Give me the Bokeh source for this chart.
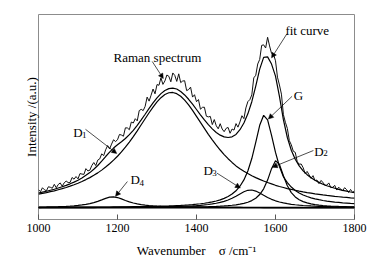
from bokeh.plotting import figure
from bokeh.models import Range1d, Label, Arrow, NormalHead, Span, FixedTicker
from bokeh.embed import file_html
from bokeh.resources import INLINE

# ---------------- data ----------------
wavenumber = list(range(1000, 1801, 10))
spectrum_wavenumber = list(range(1000, 1801, 5))
tick_values = [1000, 1200, 1400, 1600, 1800]

raman_spectrum = [
    18.3, 16.2, 20.2, 18.2, 17.1, 21.2, 20.7, 19.7, 23.7, 20.2,
    23.5, 25.1, 21.7, 25.2, 27.0, 25.5, 25.6, 30.6, 28.9, 31.6,
    29.2, 34.6, 34.1, 33.8, 39.6, 37.3, 38.0, 42.8, 45.8, 42.7,
    48.3, 49.5, 54.6, 52.8, 58.7, 63.0, 59.6, 64.5, 68.9, 67.1,
    68.9, 74.3, 73.7, 72.5, 81.0, 80.9, 79.1, 86.9, 85.9, 90.3,
    88.1, 98.5, 99.8, 98.5, 102.8, 112.2, 108.1, 114.1, 120.4, 115.5,
    124.9, 124.2, 131.7, 125.1, 128.6, 134.6, 133.3, 127.7, 136.7, 134.2,
    128.1, 135.8, 126.9, 128.5, 128.8, 118.8, 119.8, 122.3, 112.2, 114.6,
    107.5, 109.7, 99.9, 101.8, 101.9, 92.8, 92.1, 92.6, 84.3, 89.4,
    83.1, 80.0, 85.2, 79.8, 77.1, 80.5, 81.4, 75.5, 79.8, 78.7,
    85.3, 81.7, 87.0, 93.3, 90.3, 101.2, 107.6, 109.6, 114.4, 131.7,
    134.3, 145.8, 150.4, 164.7, 165.2, 162.0, 172.9, 164.1, 156.5, 155.7,
    149.0, 132.4, 124.5, 115.2, 94.4, 86.6, 80.4, 68.0, 63.8, 57.3,
    56.1, 46.7, 44.1, 44.3, 40.6, 34.6, 36.8, 33.3, 29.8, 32.5,
    27.5, 28.0, 24.4, 27.6, 25.8, 22.6, 22.9, 25.1, 20.3, 20.7,
    22.6, 17.9, 20.8, 18.7, 17.2, 20.3, 18.3, 15.4, 18.5, 15.5,
    16.9,
]

fit_curve = [
    14.9, 15.8, 16.7, 17.7, 18.7, 20.0, 21.2, 22.6, 24.2, 25.9,
    27.9, 30.2, 32.8, 35.6, 39.0, 42.8, 47.2, 51.9, 56.4, 60.5,
    63.8, 66.9, 70.2, 74.1, 78.5, 83.6, 89.1, 94.8, 100.7, 106.3,
    111.4, 115.7, 118.9, 120.8, 121.3, 120.4, 117.9, 114.4, 110.0, 105.0,
    99.6, 94.2, 89.0, 84.2, 80.0, 76.3, 73.6, 71.8, 71.2, 71.9,
    74.3, 79.1, 85.9, 95.2, 107.5, 123.4, 140.6, 152.5, 153.0, 145.7,
    133.5, 113.0, 89.3, 71.2, 58.3, 49.2, 42.4, 37.4, 33.5, 30.4,
    27.8, 25.7, 23.8, 22.2, 21.0, 19.7, 18.6, 17.6, 16.8, 15.9,
    15.2,
]

band_d1 = [
    13.8, 14.5, 15.3, 16.2, 17.1, 18.2, 19.3, 20.5, 21.8, 23.2,
    24.8, 26.6, 28.5, 30.5, 32.8, 35.3, 38.1, 41.2, 44.5, 48.2,
    52.2, 56.6, 61.4, 66.6, 72.1, 78.0, 84.1, 90.2, 96.3, 102.1,
    107.3, 111.6, 114.8, 116.6, 116.9, 115.7, 113.0, 109.1, 104.3, 98.7,
    92.7, 86.5, 80.4, 74.4, 68.8, 63.4, 58.5, 53.9, 49.7, 45.9,
    42.4, 39.6, 37.0, 34.6, 32.4, 30.5, 28.7, 27.0, 25.5, 24.1,
    22.7, 21.5, 20.5, 19.4, 18.5, 17.7, 16.8, 16.0, 15.3, 14.7,
    14.0, 13.5, 12.9, 12.4, 12.0, 11.5, 11.1, 10.7, 10.4, 9.9,
    9.6,
]

band_g = [
    0.33, 0.34, 0.36, 0.37, 0.38, 0.40, 0.41, 0.43, 0.45, 0.47,
    0.49, 0.51, 0.53, 0.55, 0.58, 0.61, 0.64, 0.67, 0.70, 0.74,
    0.78, 0.82, 0.87, 0.92, 0.98, 1.04, 1.10, 1.18, 1.26, 1.35,
    1.45, 1.56, 1.68, 1.82, 1.97, 2.16, 2.36, 2.59, 2.86, 3.17,
    3.53, 3.97, 4.48, 5.10, 5.85, 6.77, 7.93, 9.40, 11.30, 13.79,
    17.14, 21.79, 28.15, 37.21, 49.84, 66.26, 83.59, 93.70, 89.07, 73.42,
    56.02, 41.80, 31.40, 25.4, 20.9, 17.5, 14.9, 12.9, 11.3, 10.0,
    9.0, 8.1, 7.3, 6.7, 6.2, 5.7, 5.3, 4.9, 4.6, 4.3,
    4.1,
]

band_d2 = [
    0.09, 0.09, 0.10, 0.10, 0.10, 0.11, 0.11, 0.11, 0.12, 0.12,
    0.13, 0.13, 0.14, 0.15, 0.15, 0.16, 0.17, 0.17, 0.18, 0.19,
    0.20, 0.21, 0.22, 0.23, 0.25, 0.26, 0.28, 0.29, 0.31, 0.33,
    0.35, 0.38, 0.40, 0.43, 0.47, 0.51, 0.55, 0.60, 0.65, 0.71,
    0.78, 0.86, 0.96, 1.07, 1.21, 1.36, 1.56, 1.79, 2.09, 2.45,
    2.93, 3.55, 4.38, 5.54, 7.18, 9.60, 13.30, 19.09, 27.97, 39.57,
    47.72, 43.85, 32.45, 22.22, 15.31, 10.89, 8.03, 6.12, 4.80, 3.85,
    3.16, 2.63, 2.22, 1.90, 1.65, 1.44, 1.27, 1.12, 1.00, 0.90,
    0.81,
]

band_d3 = [
    0.15, 0.16, 0.17, 0.17, 0.18, 0.19, 0.20, 0.20, 0.21, 0.22,
    0.23, 0.24, 0.26, 0.27, 0.28, 0.30, 0.31, 0.33, 0.35, 0.37,
    0.39, 0.41, 0.44, 0.47, 0.50, 0.53, 0.57, 0.61, 0.66, 0.71,
    0.77, 0.83, 0.91, 0.99, 1.09, 1.20, 1.33, 1.48, 1.66, 1.87,
    2.12, 2.42, 2.78, 3.23, 3.78, 4.47, 5.34, 6.44, 7.83, 9.56,
    11.63, 13.93, 16.13, 17.65, 17.94, 16.86, 14.86, 12.54, 10.35, 8.48,
    6.96, 5.75, 4.79, 4.04, 3.43, 2.95, 2.55, 2.23, 1.96, 1.74,
    1.55, 1.39, 1.25, 1.13, 1.03, 0.94, 0.86, 0.79, 0.73, 0.68,
    0.63,
]

band_d4 = [
    0.60, 0.66, 0.74, 0.83, 0.93, 1.06, 1.21, 1.40, 1.63, 1.92,
    2.28, 2.75, 3.35, 4.13, 5.14, 6.42, 7.93, 9.48, 10.66, 10.98,
    10.27, 8.88, 7.30, 5.88, 4.71, 3.80, 3.09, 2.55, 2.12, 1.79,
    1.53, 1.32, 1.15, 1.00, 0.89, 0.79, 0.70, 0.63, 0.57, 0.52,
    0.47, 0.43, 0.40, 0.37, 0.34, 0.32, 0.29, 0.27, 0.26, 0.24,
    0.22, 0.21, 0.20, 0.19, 0.18, 0.17, 0.16, 0.15, 0.15, 0.14,
    0.13, 0.13, 0.12, 0.12, 0.11, 0.11, 0.10, 0.10, 0.10, 0.09,
    0.09, 0.09, 0.08, 0.08, 0.08, 0.08, 0.07, 0.07, 0.07, 0.07,
    0.07,
]

baseline_level = 0.0

x_title = "Wavenumber\u00a0\u00a0\u00a0\u00a0\u03c3 /cm\u207b\u00b9"
y_title = "Intensity /(a.u.)"

# ---------------- figure ----------------
FONT = "Liberation Serif"

p = figure(width=380, height=260, output_backend="svg", toolbar_location=None,
           x_range=Range1d(1000, 1800), y_range=Range1d(-12, 196),
           min_border_left=38, min_border_right=26, min_border_top=14,
           min_border_bottom=38)
p.background_fill_color = "white"
p.border_fill_color = "white"
p.grid.visible = False
p.outline_line_color = "#8c8c8c"
p.outline_line_width = 1

xa = p.xaxis[0]
xa.ticker = FixedTicker(ticks=tick_values)
xa.major_tick_in = 5
xa.major_tick_out = 0
xa.minor_tick_line_color = None
xa.major_tick_line_color = "#555555"
xa.axis_line_color = "#8c8c8c"
xa.major_label_text_font = FONT
xa.major_label_text_font_size = "12px"
xa.major_label_text_color = "black"
xa.major_label_standoff = 4
xa.axis_label = x_title
xa.axis_label_text_font = FONT
xa.axis_label_text_font_size = "13px"
xa.axis_label_text_font_style = "normal"
xa.axis_label_text_color = "black"
xa.axis_label_standoff = 8

ya = p.yaxis[0]
ya.ticker = FixedTicker(ticks=[])
ya.major_tick_line_color = None
ya.minor_tick_line_color = None
ya.axis_line_color = None
ya.major_label_standoff = 0
ya.axis_label = y_title
ya.axis_label_text_font = FONT
ya.axis_label_text_font_size = "13px"
ya.axis_label_text_font_style = "normal"
ya.axis_label_text_color = "black"
ya.axis_label_standoff = 0

# spectrum and curves
p.line(spectrum_wavenumber, raman_spectrum, line_color="#111111", line_width=1.0)
for series in (band_d4, band_d3, band_d2, band_g, band_d1, fit_curve):
    p.line(wavenumber, series, line_color="black", line_width=1.2)
p.add_layout(Span(location=baseline_level, dimension="width",
                  line_color="black", line_width=1.6))


def text(x, y, s, size="13px", style="normal", **kw):
    p.add_layout(Label(x=x, y=y, text=s, text_font=FONT, text_font_size=size,
                       text_font_style=style, text_color="black",
                       text_baseline="alphabetic", **kw))


def arrow(x0, y0, x1, y1):
    p.add_layout(Arrow(end=NormalHead(size=5, fill_color="black", line_color="black",
                                      line_width=0.5),
                       x_start=x0, y_start=y0, x_end=x1, y_end=y1,
                       line_color="black", line_width=0.7))


# annotations
text(1190, 152.7, "Raman spectrum")
arrow(1288, 148.3, 1316, 131)

text(1625, 179.3, "fit curve")
arrow(1629, 176.5, 1590, 152)

text(1646, 114, "G")
arrow(1642, 113, 1582, 90)

text(1698, 57.3, "D")
text(1721, 55, "2", size="9px")
arrow(1696, 58, 1592, 41)

text(1418, 37.3, "D")
text(1440, 35, "3", size="9px")
arrow(1452, 35, 1511, 20)

text(1233, 28.3, "D")
text(1256, 25, "4", size="9px")
arrow(1225, 26.5, 1195, 11.5)

text(1088, 76.7, "D")
text(1110, 74, "1", size="9px")
arrow(1119, 79.5, 1198, 55)

open("out.html", "w").write(file_html(p, INLINE))
